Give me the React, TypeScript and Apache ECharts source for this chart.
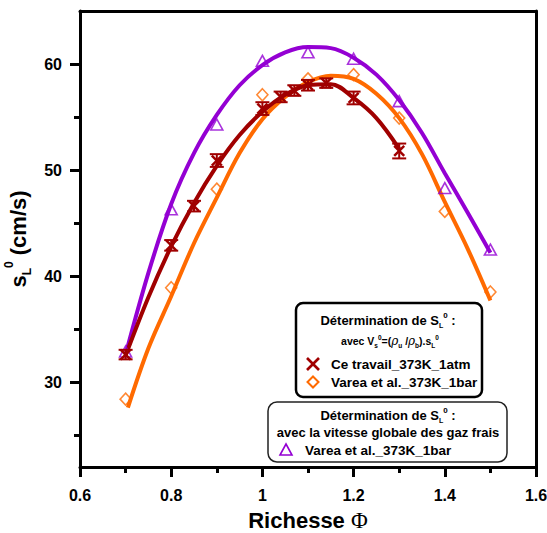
import React, { useEffect, useRef } from "react";
import * as echarts from "echarts";

// ---- Data ----
const yMajorTicks = [30, 40, 50, 60];
const yMinorTicks = [25, 35, 45, 55];

// Ce travail_373K_1atm (points with error bars)
const ceX = [0.7, 0.8, 0.85, 0.9, 1.0, 1.04, 1.07, 1.1, 1.14, 1.2, 1.3];
const ceY = [32.6, 42.9, 46.6, 50.9, 55.8, 56.9, 57.5, 58.0, 58.2, 56.8, 51.8];
const ceErr = [0.45, 0.5, 0.5, 0.6, 0.6, 0.5, 0.5, 0.5, 0.45, 0.6, 0.7];

// Varea et al. (laminar, diamonds) and (global, triangles)
const vareaX = [0.7, 0.8, 0.9, 1.0, 1.1, 1.2, 1.3, 1.4, 1.5];
const vareaLY = [28.4, 38.9, 48.2, 57.1, 58.6, 59.0, 54.9, 46.1, 38.5];
const vareaGY = [32.9, 46.3, 54.3, 60.3, 61.1, 60.5, 56.5, 48.3, 42.5];

// Fitted curves
const fitCeX = [0.7, 0.75, 0.8, 0.85, 0.9, 0.95, 1.0, 1.05, 1.1, 1.15, 1.2, 1.25, 1.3];
const fitCeY = [32.5, 38.0, 42.8, 46.9, 50.4, 53.3, 55.5, 57.1, 58.0, 58.1, 56.8, 54.9, 52.0];

const fitLX = [0.705, 0.75, 0.8, 0.85, 0.9, 0.95, 1.0, 1.05, 1.1, 1.15, 1.2, 1.25, 1.3, 1.35, 1.4, 1.45, 1.5];
const fitLY = [27.6, 33.2, 38.1, 43.1, 47.4, 51.6, 54.8, 56.9, 58.3, 58.9, 58.6, 57.2, 54.9, 51.5, 47.0, 42.6, 37.7];

const fitGX = [0.7, 0.75, 0.8, 0.85, 0.9, 0.95, 1.0, 1.05, 1.1, 1.15, 1.2, 1.25, 1.3, 1.35, 1.4, 1.45, 1.5];
const fitGY = [32.6, 40.3, 46.8, 51.6, 55.2, 58.0, 59.9, 61.1, 61.6, 61.5, 60.6, 59.0, 56.6, 53.5, 49.7, 46.0, 42.2];

const PURPLE = "#9400D3";
const ORANGE = "#FF6A00";
const DARKRED = "#A00000";
const FONT = "Liberation Sans, Arial, sans-serif";

const Y_MIN = 22;
const Y_MAX = 65;

export default function App() {
  const ref = useRef<HTMLDivElement>(null);

  useEffect(() => {
    if (!ref.current) return;
    const chart = echarts.init(ref.current, null, { renderer: "svg" });

    const axisLineStyle = { color: "#000", width: 3 };

    const option: any = {
      animation: false,
      backgroundColor: "#fff",
      grid: { left: 80, top: 11, right: 11, bottom: 66, containLabel: false, outerBoundsMode: "none" },
      xAxis: [
        {
          type: "value",
          min: 0.6,
          max: 1.6,
          interval: 0.2,
          position: "bottom",
          axisLine: { show: true, onZero: false, lineStyle: axisLineStyle },
          axisTick: { show: true, inside: false, length: 10, lineStyle: { color: "#000", width: 3 } },
          minorTick: { show: true, splitNumber: 2, length: 6, lineStyle: { color: "#000", width: 3 } },
          splitLine: { show: false },
          axisLabel: {
            margin: 20,
            color: "#000",
            fontSize: 16,
            fontWeight: "bold",
            fontFamily: FONT,
            formatter: (v: number) => String(Math.round(v * 10) / 10),
          },
          name: "{b|Richesse }{phi|Φ}",
          nameLocation: "middle",
          nameGap: 42,
          nameTextStyle: {
            rich: {
              b: { fontSize: 22, fontWeight: "bold", fontFamily: FONT, color: "#000" },
              phi: { fontSize: 23, fontFamily: "Liberation Serif, serif", color: "#000" },
            },
          },
        },
        {
          type: "value",
          min: 0.6,
          max: 1.6,
          position: "top",
          axisLine: { show: true, onZero: false, lineStyle: axisLineStyle },
          axisTick: { show: false },
          axisLabel: { show: false },
          splitLine: { show: false },
        },
      ],
      yAxis: [
        {
          type: "value",
          min: Y_MIN,
          max: Y_MAX,
          position: "left",
          axisLine: { show: true, onZero: false, lineStyle: axisLineStyle },
          axisTick: { show: true, length: 10, customValues: yMajorTicks, lineStyle: { color: "#000", width: 3 } },
          splitLine: { show: false },
          axisLabel: {
            customValues: yMajorTicks,
            margin: 18,
            color: "#000",
            fontSize: 16,
            fontWeight: "bold",
            fontFamily: FONT,
          },
          name: "{b|s}{sub|L}{sup|0}{b| (cm/s)}",
          nameLocation: "middle",
          nameGap: 41,
          nameRotate: 90,
          nameTextStyle: {
            rich: {
              b: { fontSize: 22, fontWeight: "bold", fontFamily: FONT, color: "#000", lineHeight: 30 },
              sub: { fontSize: 12, fontWeight: "bold", fontFamily: FONT, color: "#000", verticalAlign: "bottom", lineHeight: 12 },
              sup: { fontSize: 12, fontWeight: "bold", fontFamily: FONT, color: "#000", verticalAlign: "top", lineHeight: 12 },
            },
          },
        },
        {
          type: "value",
          min: Y_MIN,
          max: Y_MAX,
          position: "left",
          axisLine: { show: false },
          axisTick: { show: true, length: 6, customValues: yMinorTicks, lineStyle: { color: "#000", width: 3 } },
          axisLabel: { show: false, customValues: yMinorTicks },
          splitLine: { show: false },
        },
        {
          type: "value",
          min: Y_MIN,
          max: Y_MAX,
          position: "right",
          axisLine: { show: true, onZero: false, lineStyle: axisLineStyle },
          axisTick: { show: false },
          axisLabel: { show: false },
          splitLine: { show: false },
        },
      ],
      series: [
        {
          type: "line",
          data: fitGX.map((x, i) => [x, fitGY[i]]),
          smooth: 0.35,
          symbol: "none",
          lineStyle: { color: PURPLE, width: 4 },
          z: 2,
        },
        {
          type: "line",
          data: fitLX.map((x, i) => [x, fitLY[i]]),
          smooth: 0.35,
          symbol: "none",
          lineStyle: { color: ORANGE, width: 4 },
          z: 2,
        },
        {
          type: "line",
          data: fitCeX.map((x, i) => [x, fitCeY[i]]),
          smooth: 0.35,
          symbol: "none",
          lineStyle: { color: DARKRED, width: 4 },
          z: 2,
        },
        {
          type: "scatter",
          data: vareaX.map((x, i) => [x, vareaGY[i]]),
          symbol: "triangle",
          symbolSize: [12, 11],
          itemStyle: { color: "rgba(255,255,255,0)", borderColor: PURPLE, borderWidth: 1.6 },
          z: 3,
        },
        {
          type: "scatter",
          data: vareaX.map((x, i) => [x, vareaLY[i]]),
          symbol: "diamond",
          symbolSize: [11, 12],
          itemStyle: { color: "rgba(255,255,255,0)", borderColor: ORANGE, borderWidth: 1.6 },
          z: 3,
        },
        {
          type: "custom",
          data: ceX.map((x, i) => [x, ceY[i], ceErr[i]]),
          z: 4,
          renderItem: (params: any, api: any) => {
            const x = api.value(0);
            const y = api.value(1);
            const e = api.value(2);
            const c = api.coord([x, y]);
            const t = api.coord([x, y + e]);
            const b = api.coord([x, y - e]);
            const s = 5;
            const cap = 7;
            const st = { stroke: DARKRED, lineWidth: 2.5 };
            const st2 = { stroke: DARKRED, lineWidth: 2 };
            return {
              type: "group",
              children: [
                { type: "line", shape: { x1: c[0] - s, y1: c[1] - s, x2: c[0] + s, y2: c[1] + s }, style: st },
                { type: "line", shape: { x1: c[0] + s, y1: c[1] - s, x2: c[0] - s, y2: c[1] + s }, style: st },
                { type: "line", shape: { x1: c[0], y1: t[1], x2: c[0], y2: b[1] }, style: st2 },
                { type: "line", shape: { x1: c[0] - cap, y1: t[1], x2: c[0] + cap, y2: t[1] }, style: st2 },
                { type: "line", shape: { x1: c[0] - cap, y1: b[1], x2: c[0] + cap, y2: b[1] }, style: st2 },
              ],
            };
          },
        },
      ],
      graphic: [
        // Legend box 1
        {
          type: "rect",
          shape: { x: 296, y: 303, width: 186, height: 94, r: 7 },
          style: { fill: "#fff", stroke: "#000", lineWidth: 2.5 },
          z: 10,
        },
        {
          type: "text",
          x: 388,
          y: 320,
          z: 11,
          style: {
            text: "{b|Détermination de S}{sub|L}{sup|0}{b| :}",
            align: "center",
            verticalAlign: "middle",
            rich: {
              b: { fontSize: 13, fontWeight: "bold", fontFamily: FONT, fill: "#000", lineHeight: 18 },
              sub: { fontSize: 7, fontWeight: "bold", fontFamily: FONT, fill: "#000", verticalAlign: "bottom", lineHeight: 7 },
              sup: { fontSize: 8, fontWeight: "bold", fontFamily: FONT, fill: "#000", verticalAlign: "top", lineHeight: 8 },
            },
          },
        },
        {
          type: "text",
          x: 390,
          y: 341,
          z: 11,
          style: {
            text: "{b|avec V}{sub|s}{sup|0}{b|=(}{r|ρ}{sub|u}{b| /}{r|ρ}{sub|b}{b|).s}{sub|L}{sup|0}",
            align: "center",
            verticalAlign: "middle",
            rich: {
              b: { fontSize: 10.5, fontWeight: "bold", fontFamily: FONT, fill: "#000", lineHeight: 15 },
              r: { fontSize: 12, fontStyle: "italic", fontFamily: "DejaVu Serif, serif", fill: "#000", lineHeight: 15 },
              sub: { fontSize: 6.5, fontWeight: "bold", fontFamily: FONT, fill: "#000", verticalAlign: "bottom", lineHeight: 6 },
              sup: { fontSize: 6.5, fontWeight: "bold", fontFamily: FONT, fill: "#000", verticalAlign: "top", lineHeight: 6 },
            },
          },
        },
        { type: "line", z: 11, shape: { x1: 307, y1: 358, x2: 319, y2: 370 }, style: { stroke: DARKRED, lineWidth: 2.6 } },
        { type: "line", z: 11, shape: { x1: 319, y1: 358, x2: 307, y2: 370 }, style: { stroke: DARKRED, lineWidth: 2.6 } },
        {
          type: "text",
          x: 331,
          y: 364,
          z: 11,
          style: { text: "Ce travail_373K_1atm", fontSize: 13.5, fontWeight: "bold", fontFamily: FONT, fill: "#000", align: "left", verticalAlign: "middle" },
        },
        {
          type: "polygon",
          z: 11,
          shape: { points: [[313, 376.5], [318.5, 382], [313, 387.5], [307.5, 382]] },
          style: { fill: "none", stroke: ORANGE, lineWidth: 2 },
        },
        {
          type: "text",
          x: 331,
          y: 382,
          z: 11,
          style: { text: "Varea et al._373K_1bar", fontSize: 13.5, fontWeight: "bold", fontFamily: FONT, fill: "#000", align: "left", verticalAlign: "middle" },
        },
        // Legend box 2
        {
          type: "rect",
          shape: { x: 268, y: 402, width: 239, height: 60, r: 9 },
          style: { fill: "#fff", stroke: "#222", lineWidth: 1.5 },
          z: 10,
        },
        {
          type: "text",
          x: 388,
          y: 415,
          z: 11,
          style: {
            text: "{b|Détermination de S}{sub|L}{sup|0}{b| :}",
            align: "center",
            verticalAlign: "middle",
            rich: {
              b: { fontSize: 13, fontWeight: "bold", fontFamily: FONT, fill: "#000", lineHeight: 18 },
              sub: { fontSize: 7, fontWeight: "bold", fontFamily: FONT, fill: "#000", verticalAlign: "bottom", lineHeight: 7 },
              sup: { fontSize: 8, fontWeight: "bold", fontFamily: FONT, fill: "#000", verticalAlign: "top", lineHeight: 8 },
            },
          },
        },
        {
          type: "text",
          x: 388,
          y: 432,
          z: 11,
          style: { text: "avec la vitesse globale des gaz frais", fontSize: 13, fontWeight: "bold", fontFamily: FONT, fill: "#000", align: "center", verticalAlign: "middle" },
        },
        {
          type: "polygon",
          z: 11,
          shape: { points: [[286, 444], [292, 455], [280, 455]] },
          style: { fill: "none", stroke: PURPLE, lineWidth: 1.6 },
        },
        {
          type: "text",
          x: 305,
          y: 450,
          z: 11,
          style: { text: "Varea et al._373K_1bar", fontSize: 13.5, fontWeight: "bold", fontFamily: FONT, fill: "#000", align: "left", verticalAlign: "middle" },
        },
      ],
    };

    chart.setOption(option);
    return () => chart.dispose();
  }, []);

  return <div ref={ref} style={{ width: 547, height: 533, position: "absolute", left: 0, top: 0 }} />;
}
